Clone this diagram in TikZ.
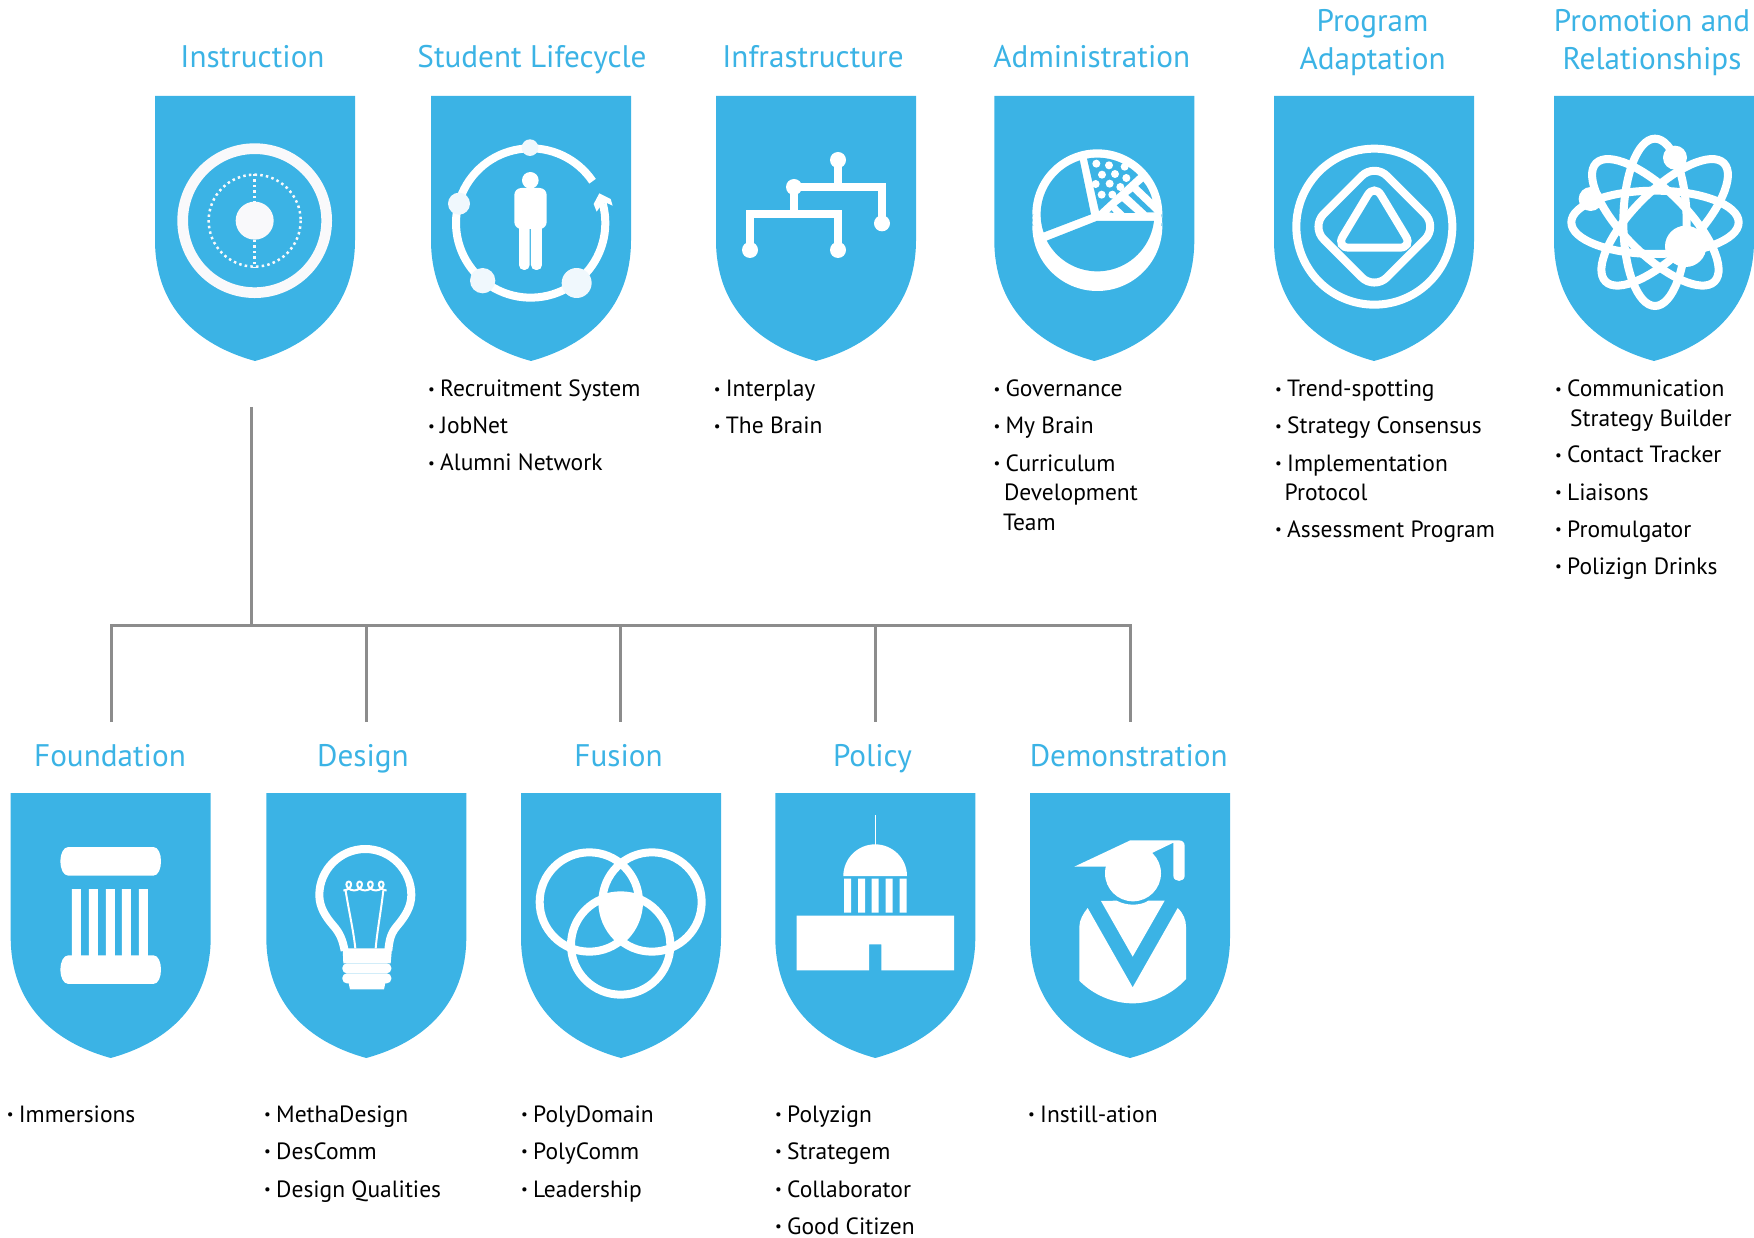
\documentclass[tikz,border=0pt]{standalone}
\usepackage{fontspec}
\setmainfont{PT Sans}
\definecolor{shieldblue}{HTML}{3BB3E5}
\definecolor{iconwhite}{HTML}{FFFFFF}
\definecolor{softwhite}{HTML}{F9F9FB}
\definecolor{nodewhite}{HTML}{F0F8FD}
\definecolor{treegray}{HTML}{8C8C8C}
\newcommand{\bl}{\makebox[12pt][l]{\fontsize{15}{15}\selectfont\raisebox{2.2pt}{•}}}
\newcommand{\shieldat}[2]{\fill[shieldblue,shift={(#1,#2)}] (0,0) -- (200,0) -- (200,144) .. controls (200,211) and (158,249) .. (100,265) .. controls (42,249) and (0,211) .. (0,144) -- cycle;}
\newcommand{\capital}[1]{\fill[iconwhite,yshift=#1] (205,201) -- (460,201) .. controls (475,201) and (483,222) .. (483,244) .. controls (483,266) and (475,287) .. (460,287) -- (205,287) .. controls (190,287) and (181,266) .. (181,244) .. controls (181,222) and (190,201) .. (205,201) -- cycle;}
\tikzset{
  x=1pt,y=-1pt,
  title/.style={text=shieldblue,font=\fontsize{31.2}{38}\selectfont,inner sep=0pt,anchor=base,align=center},
  li/.style={text=black,font=\fontsize{23.5}{29.5}\selectfont,inner sep=0pt,anchor=base west,align=left},
  conn/.style={draw=treegray,line width=3pt},
  zoomed/.style={x=0.33333pt,y=-0.33333pt},
}
\begin{document}
\begin{tikzpicture}
\useasboundingbox (0,0) rectangle (1754,1238);
% shields
\shieldat{155}{96}\shieldat{431}{96}\shieldat{716}{96}\shieldat{994.3}{96}\shieldat{1274}{96}\shieldat{1554}{96}
\shieldat{10.7}{793}\shieldat{266.3}{793}\shieldat{521}{793}\shieldat{775.3}{793}\shieldat{1030}{793}
% titles
\node[title] (t1) at (252.5,68) {Instruction};
\node[title] (t2) at (532,68) {Student Lifecycle};
\node[title] (t3) at (813,68) {Infrastructure};
\node[title] (t4) at (1091.8,68) {Administration};
\node[title] (t5) at (1372.6,70) {Program\\Adaptation};
\node[title] (t6) at (1652,70) {Promotion and\\Relationships};
\node[title] (b1) at (110,766) {Foundation};
\node[title] (b2) at (363,766) {Design};
\node[title] (b3) at (618.6,766) {Fusion};
\node[title] (b4) at (872.5,766) {Policy};
\node[title] (b5) at (1128.7,766) {Demonstration};
% lists
\node[li] (sl1) at (428,397) {\bl Recruitment System};
\node[li] (sl2) at (428,434) {\bl JobNet};
\node[li] (sl3) at (428,470.5) {\bl Alumni Network};
\node[li] (in1) at (713.7,397) {\bl Interplay};
\node[li] (in2) at (713.7,434) {\bl The Brain};
\node[li] (ad1) at (993.3,397) {\bl Governance};
\node[li] (ad2) at (993.3,434) {\bl My Brain};
\node[li] (ad3) at (993.3,530) {\bl Curriculum\\\hspace*{10.5pt}Development\\\hspace*{9.5pt}Team};
\node[li] (pa1) at (1275,397) {\bl Trend-spotting};
\node[li] (pa2) at (1275,434) {\bl Strategy Consensus};
\node[li] (pa3) at (1275,500.5) {\bl Implementation\\\hspace*{9.5pt}Protocol};
\node[li] (pa4) at (1275,537) {\bl Assessment Program};
\node[li] (pr1) at (1555,426.5) {\bl Communication\\\hspace*{15pt}Strategy Builder};
\node[li] (pr2) at (1555,463) {\bl Contact Tracker};
\node[li] (pr3) at (1555,500) {\bl Liaisons};
\node[li] (pr4) at (1555,537) {\bl Promulgator};
\node[li] (pr5) at (1555,574) {\bl Polizign Drinks};
\node[li] (fo1) at (6.7,1122) {\bl Immersions};
\node[li] (de1) at (264,1122) {\bl MethaDesign};
\node[li] (de2) at (264,1159) {\bl DesComm};
\node[li] (de3) at (264,1197) {\bl Design Qualities};
\node[li] (fu1) at (521,1122) {\bl PolyDomain};
\node[li] (fu2) at (521,1159) {\bl PolyComm};
\node[li] (fu3) at (521,1197) {\bl Leadership};
\node[li] (po1) at (775,1122) {\bl Polyzign};
\node[li] (po2) at (775,1159) {\bl Strategem};
\node[li] (po3) at (775,1197) {\bl Collaborator};
\node[li] (po4) at (775,1234) {\bl Good Citizen};
\node[li] (de9) at (1028,1122) {\bl Instill-ation};
% connectors
\coordinate (rootdrop) at (251.3,407);
\coordinate (hub) at (251.3,625.8);
\coordinate (d1) at (111.3,721.7);
\coordinate (d2) at (366,721.7);
\coordinate (d3) at (620.7,721.7);
\coordinate (d4) at (875.3,721.7);
\coordinate (d5) at (1130,721.7);
\draw[conn] (rootdrop) -- (hub);
\draw[conn] (d1) -- (d1 |- hub) -- (d5 |- hub) -- (d5);
\draw[conn] (d2) -- (d2 |- hub);
\draw[conn] (d3) -- (d3 |- hub);
\draw[conn] (d4) -- (d4 |- hub);
% icons row 1, left pair
\begin{scope}[shift={(140,80)},zoomed]
  \draw[softwhite,line width=10.7pt] (344,422) circle[radius=216];
  \draw[softwhite,line width=2.5pt,dash pattern=on 2.5pt off 3.2pt] (344,422) circle[radius=138];
  \draw[softwhite,line width=2.5pt,dash pattern=on 2.5pt off 3pt] (344,282) -- (344,365);
  \draw[softwhite,line width=2.5pt,dash pattern=on 2.5pt off 3pt] (344,480) -- (344,564);
  \fill[softwhite] (344,422) circle[radius=57];
  % lifecycle
  \draw[iconwhite,line width=8pt] plot[domain=34:375,samples=90] ({1172+224*cos(\x)},{429-224*sin(\x)});
  \fill[iconwhite] (1378,340) -- (1412,357) -- (1418,377) -- (1398,368) -- (1384,375) -- (1370,395) -- (1361,372) -- cycle;
  \fill[nodewhite] (1170,203) circle[radius=25] (957,371) circle[radius=33] (1028,602) circle[radius=38] (1310,609) circle[radius=45];
  \fill[iconwhite] (1171,301) circle[radius=25];
  \fill[iconwhite,rounded corners=7pt] (1123,324) rectangle (1220,447);
  \fill[iconwhite,rounded corners=5pt] (1137,430) rectangle (1169,570);
  \fill[iconwhite,rounded corners=5pt] (1173,430) rectangle (1206,570);
\end{scope}
% infrastructure and administration
\begin{scope}[shift={(700,80)},zoomed]
  \draw[iconwhite,line width=8pt] (150,510) -- (150,402) -- (414,402) -- (414,510);
  \draw[iconwhite,line width=8pt] (282,321) -- (282,402);
  \draw[iconwhite,line width=8pt] (282,321) -- (546,321) -- (546,430);
  \draw[iconwhite,line width=8pt] (414,240) -- (414,321);
  \fill[iconwhite] (150,510) circle[radius=24] (414,510) circle[radius=24] (546,430) circle[radius=24] (414,240) circle[radius=24] (282,321) circle[radius=24];
  % pie
  \fill[iconwhite] (1192,403) circle[radius=195] (1192,438) circle[radius=195] (998,403) rectangle (1386,438);
  \fill[shieldblue] (1173,403) -- plot[domain=108:198.6,samples=40] ({1192+170*cos(\x)},{403-170*sin(\x)}) -- cycle;
  \fill[shieldblue] (1190,423) -- plot[domain=207.5:353.3,samples=50] ({1192+171*cos(\x)},{403-171*sin(\x)}) -- cycle;
  \fill[shieldblue] (1197,393) -- plot[domain=100.5:44,samples=30] ({1192+170*cos(\x)},{403-170*sin(\x)}) -- cycle;
  \fill[iconwhite] (1189,251) circle[radius=12] (1227,256) circle[radius=12] (1274,260) circle[radius=12] (1206,284) circle[radius=12] (1245,282) circle[radius=12] (1279,294) circle[radius=12] (1187,312) circle[radius=12] (1229,311) circle[radius=12] (1261,321) circle[radius=12] (1205,344) circle[radius=12] (1237,344) circle[radius=12];
  \fill[shieldblue] (1315,318) -- (1330,305) .. controls (1343,320) and (1352,340) .. (1357,358) -- cycle;
  \fill[shieldblue] (1285,345) -- (1298,335) -- (1363,397) -- (1341,397) -- cycle;
  \fill[shieldblue] (1250,376) -- (1266,364) -- (1306,399) -- (1274,399) -- cycle;
  \fill[shieldblue] (1228,397) -- (1235,391) -- (1241,399) -- cycle;
\end{scope}
% program adaptation and promotion
\begin{scope}[shift={(1260,80)},zoomed]
  \draw[iconwhite,line width=8pt] (343,440) circle[radius=234];
  \draw[iconwhite,line width=8pt,rounded corners=18pt] (343,250) -- (533,440) -- (343,630) -- (153,440) -- cycle;
  \draw[iconwhite,line width=8pt,rounded corners=13pt] (343,312) -- (458,503) -- (228,503) -- cycle;
  \draw[iconwhite,line width=8pt] (1185,427) ellipse[x radius=251,y radius=95];
  \draw[iconwhite,line width=8pt] (1185,427) ellipse[x radius=95,y radius=251];
  \draw[iconwhite,line width=8pt,rotate around={-45:(1186,427)}] (1186,427) ellipse[x radius=251,y radius=95];
  \draw[iconwhite,line width=8pt,rotate around={45:(1214,427)}] (1214,427) ellipse[x radius=251,y radius=95];
  \fill[iconwhite] (1245,233) circle[radius=36] (992,357) circle[radius=36] (1277,499) circle[radius=62];
\end{scope}
% foundation and design
\begin{scope}[shift={(0,780)},zoomed]
  \capital{0pt}
  \capital{-108.3pt}
  \fill[iconwhite] (216,327) rectangle (243,530) (267,327) rectangle (294,530) (318,327) rectangle (345,530) (366,327) rectangle (393,530) (417,327) rectangle (444,530);
  % bulb
  \draw[iconwhite,line width=8pt] (1034,512) .. controls (1028,480) and (1020,460) .. (1000,437) .. controls (975,408) and (958,380) .. (958,345) .. controls (958,270) and (1020,207) .. (1096,207) .. controls (1172,207) and (1234,270) .. (1234,345) .. controls (1234,380) and (1215,410) .. (1192,437) .. controls (1172,460) and (1168,480) .. (1165,512);
  \fill[iconwhite] (1028,505) -- (1176,505) -- (1172,550) -- (1030,550) -- cycle;
  \fill[iconwhite,rounded corners=4.5pt] (1027,550) rectangle (1174,580);
  \fill[iconwhite,rounded corners=4.5pt] (1027,580) rectangle (1174,610);
  \fill[iconwhite] (1045,605) -- (1157,605) -- (1152,628) -- (1050,628) -- cycle;
  \draw[iconwhite,line width=2pt] (1037,333) .. controls (1048,400) and (1060,450) .. (1066,505);
  \draw[iconwhite,line width=2pt] (1150,332) .. controls (1142,400) and (1132,450) .. (1127,505);
  \draw[iconwhite,line width=2pt] plot[domain=0:1440,samples=140] ({1030+\x/360*32.5+14*sin(\x)},{318+13*cos(\x)});
\end{scope}
% fusion and policy
\begin{scope}[shift={(510,780)},zoomed]
  \draw[iconwhite,line width=8pt] (238,366) circle[radius=149] (426,366) circle[radius=149] (332,495) circle[radius=149];
  \begin{scope}
    \clip (238,366) circle[radius=149];
    \clip (426,366) circle[radius=149];
    \fill[iconwhite] (332,495) circle[radius=149];
  \end{scope}
  \draw[iconwhite,line width=1pt] (1096,105) -- (1096,195);
  \fill[iconwhite] (1000,288) arc[start angle=180,end angle=360,x radius=95.5,y radius=95] -- cycle;
  \fill[iconwhite] (1002,296) rectangle (1023,398) (1044,296) rectangle (1065,398) (1085,296) rectangle (1106,398) (1127,296) rectangle (1148,398) (1169,296) rectangle (1190,398);
  \fill[iconwhite] (860,407) -- (1332,407) -- (1332,571) -- (1114,571) -- (1114,493) -- (1077,493) -- (1077,571) -- (860,571) -- cycle;
\end{scope}
% demonstration
\begin{scope}[shift={(1020,780)},zoomed]
  \fill[iconwhite] (339,280) circle[radius=84];
  \fill[iconwhite] (163,260) -- (331,181) -- (476,181) .. controls (488,181) and (494,188) .. (494,198) -- (494,287) .. controls (494,308) and (460,308) .. (460,287) -- (460,188) -- (396,219) -- (300,260) -- cycle;
  \fill[iconwhite] (243,363) -- (290,362) .. controls (320,378) and (360,378) .. (385,362) -- (434,362) -- (338,530) -- cycle;
  \fill[iconwhite] (203,384) -- (338,622) -- (473,384) .. controls (490,400) and (498,420) .. (498,440) -- (498,597) .. controls (455,645) and (395,670) .. (338,670) .. controls (280,670) and (220,645) .. (178,602) -- (178,440) .. controls (178,420) and (190,400) .. (203,384) -- cycle;
\end{scope}
\end{tikzpicture}
\end{document}
